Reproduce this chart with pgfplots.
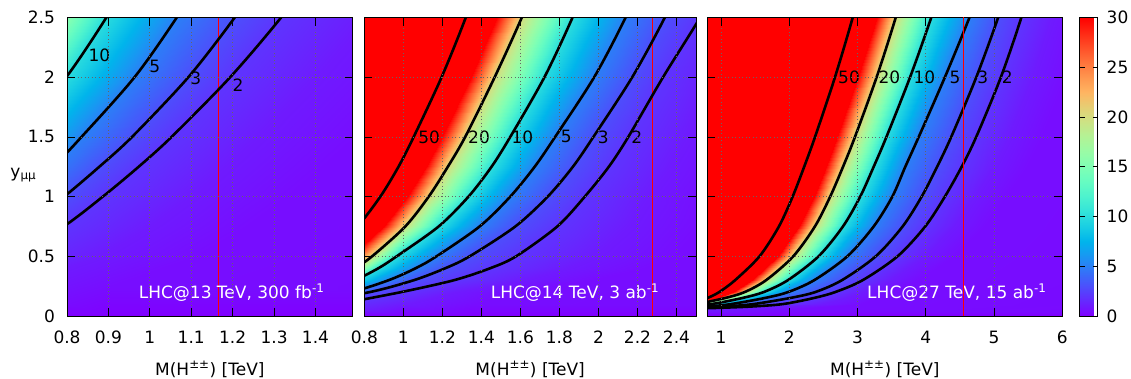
\documentclass[border=0pt]{standalone}
\usepackage{fontspec}
\setmainfont{DejaVu Sans}
\usepackage{pgfplots}
\usepackage{pgfplotstable}
\pgfplotsset{compat=1.18}
\pgfkeys{/pgf/number format/assume math mode=true}
\pgfplotsset{colormap={gnurainbow}{rgb=(0.5,0,1) rgb=(0.4,0.1564,0.9969) rgb=(0.3,0.309,0.9877) rgb=(0.2,0.454,0.9724) rgb=(0.1,0.5878,0.9511) rgb=(0,0.7071,0.9239) rgb=(0.1,0.809,0.891) rgb=(0.2,0.891,0.8526) rgb=(0.3,0.9511,0.809) rgb=(0.4,0.9877,0.7604) rgb=(0.5,1,0.7071) rgb=(0.6,0.9877,0.6494) rgb=(0.7,0.9511,0.5878) rgb=(0.8,0.891,0.5225) rgb=(0.9,0.809,0.454) rgb=(1,0.7071,0.3827) rgb=(1,0.5878,0.309) rgb=(1,0.454,0.2334) rgb=(1,0.309,0.1564) rgb=(1,0.1564,0.0785) rgb=(1,0,0)}}

\pgfplotsset{panel/.style={
  scale only axis, height=298.5pt, ymin=0, ymax=2.5, enlargelimits=false,
  ytick={0,0.5,1,1.5,2,2.5},
  tick pos=both, xticklabel pos=lower, yticklabel pos=left,
  tick align=inside, major tick length=8pt,
  tick style={black, line width=0.8pt},
  axis line style={black, line width=0.8pt},
  grid=major, major grid style={black!60, line width=0.7pt, dash pattern=on 0.7pt off 2.8pt},
  axis on top,
  colormap name=gnurainbow, point meta min=0, point meta max=30,
  xlabel={M(H\textsuperscript{±±}) [TeV]},
  xlabel style={at={(axis description cs:0.5,0)}, anchor=base, yshift=-59pt},
  xticklabel style={anchor=base, yshift=-27.5pt},
  yticklabel style={anchor=east, xshift=-6.3pt},
  anchor=south west,
},
cline/.style={black, line width=2.6pt, smooth, forget plot},
redline/.style={color=red, line width=1pt, forget plot},
}

\pgfplotstableread{
M y s
-5 0 0
-0.254 0 0
-0.157 0 0
0.008 0 0
0.208 0 0
0.336 0 0
0.4625 0 0
0.6725 0 0
0.9025 0 0
5 0 0
-5 0.25 30
-0.254 0.25 30
-0.157 0.25 20
0.008 0.25 10
0.208 0.25 5
0.336 0.25 3
0.4625 0.25 2
0.6725 0.25 1
0.9025 0.25 0.5
5 0.25 0
-5 0.5 30
-0.005 0.5 30
0.092 0.5 20
0.257 0.5 10
0.44 0.5 5
0.564 0.5 3
0.670 0.5 2
0.88 0.5 1
1.11 0.5 0.5
5 0.5 0
-5 0.75 30
0.144 0.75 30
0.241 0.75 20
0.406 0.75 10
0.579 0.75 5
0.698 0.75 3
0.792 0.75 2
1.002 0.75 1
1.232 0.75 0.5
5 0.75 0
-5 1.0 30
0.259 1.0 30
0.356 1.0 20
0.521 1.0 10
0.681 1.0 5
0.793 1.0 3
0.8865 1.0 2
1.0965 1.0 1
1.3265 1.0 0.5
5 1.0 0
-5 1.25 30
0.343 1.25 30
0.44 1.25 20
0.605 1.25 10
0.766 1.25 5
0.878 1.25 3
0.973 1.25 2
1.183 1.25 1
1.413 1.25 0.5
5 1.25 0
-5 1.5 30
0.415 1.5 30
0.512 1.5 20
0.677 1.5 10
0.835 1.5 5
0.957 1.5 3
1.0525 1.5 2
1.2625 1.5 1
1.4925 1.5 0.5
5 1.5 0
-5 2.0 30
0.536 2.0 30
0.633 2.0 20
0.798 2.0 10
0.963 2.0 5
1.093 2.0 3
1.194 2.0 2
1.404 2.0 1
1.634 2.0 0.5
5 2.0 0
-5 2.5 30
0.633 2.5 30
0.73 2.5 20
0.895 2.5 10
1.065 2.5 5
1.205 2.5 3
1.317 2.5 2
1.527 2.5 1
1.757 2.5 0.5
5 2.5 0
}\tabA

\pgfplotstableread{
M y s
-5 0 0
0.082 0 0
0.197 0 0
0.304 0 0
0.418 0 0
0.467 0 0
0.668 0 0
1.010 0 0
1.351 0 0
10 0 0
-5 0.1 30
0.082 0.1 30
0.197 0.1 20
0.304 0.1 10
0.418 0.1 5
0.467 0.1 3
0.668 0.1 2
1.010 0.1 1
1.351 0.1 0.5
10 0.1 0
-5 0.2 30
0.362 0.2 30
0.474 0.2 20
0.581 0.2 10
0.730 0.2 5
0.827 0.2 3
0.988 0.2 2
1.262 0.2 1
1.535 0.2 0.5
10 0.2 0
-5 0.3 30
0.526 0.3 30
0.636 0.3 20
0.751 0.3 10
0.925 0.3 5
1.054 0.3 3
1.26 0.3 2
1.61 0.3 1
1.96 0.3 0.5
10 0.3 0
-5 0.4 30
0.643 0.4 30
0.751 0.4 20
0.872 0.4 10
1.063 0.4 5
1.215 0.4 3
1.445 0.4 2
1.836 0.4 1
2.227 0.4 0.5
10 0.4 0
-5 0.5 30
0.733 0.5 30
0.84 0.5 20
0.966 0.5 10
1.17 0.5 5
1.34 0.5 3
1.578 0.5 2
1.983 0.5 1
2.387 0.5 0.5
10 0.5 0
-5 0.75 30
0.901 0.75 30
1.010 0.75 20
1.181 0.75 10
1.391 0.75 5
1.574 0.75 3
1.789 0.75 2
2.155 0.75 1
2.52 0.75 0.5
10 0.75 0
-5 1.0 30
1.020 1.0 30
1.130 1.0 20
1.334 1.0 10
1.548 1.0 5
1.74 1.0 3
1.93 1.0 2
2.253 1.0 1
2.576 1.0 0.5
10 1.0 0
-5 1.25 30
1.116 1.25 30
1.228 1.25 20
1.452 1.25 10
1.673 1.25 5
1.869 1.25 3
2.053 1.25 2
2.366 1.25 1
2.679 1.25 0.5
10 1.25 0
-5 1.5 30
1.2 1.5 30
1.317 1.5 20
1.548 1.5 10
1.778 1.5 5
1.974 1.5 3
2.153 1.5 2
2.457 1.5 1
2.762 1.5 0.5
10 1.5 0
-5 2.0 30
1.348 2.0 30
1.468 2.0 20
1.723 2.0 10
1.978 2.0 5
2.173 2.0 3
2.331 2.0 2
2.6 2.0 1
2.868 2.0 0.5
10 2.0 0
-5 2.5 30
1.48 2.5 30
1.607 2.5 20
1.867 2.5 10
2.139 2.5 5
2.34 2.5 3
2.521 2.5 2
2.829 2.5 1
3.136 2.5 0.5
10 2.5 0
}\tabB

\pgfplotstableread{
M y s
-5 0 0
-0.7 0 0
-0.6 0 0
-0.5 0 0
-0.4 0 0
-0.3 0 0
-0.2 0 0
0.8 0 0
1.8 0 0
20 0 0
-5 0.05 30
-0.7 0.05 30
-0.6 0.05 20
-0.5 0.05 10
-0.4 0.05 5
-0.3 0.05 3
-0.2 0.05 2
0.8 0.05 1
1.8 0.05 0.5
20 0.05 0
-5 0.1 30
0.619 0.1 30
0.652 0.1 20
0.862 0.1 10
1.149 0.1 5
1.478 0.1 3
1.909 0.1 2
2.469 0.1 1
3.03 0.1 0.5
20 0.1 0
-5 0.15 30
0.943 0.15 30
1.057 0.15 20
1.308 0.15 10
1.636 0.15 5
2.005 0.15 3
2.355 0.15 2
2.81 0.15 1
3.265 0.15 0.5
20 0.15 0
-5 0.2 30
1.18 0.2 30
1.345 0.2 20
1.624 0.2 10
1.981 0.2 5
2.379 0.2 3
2.671 0.2 2
3.051 0.2 1
3.43 0.2 0.5
20 0.2 0
-5 0.3 30
1.46 0.3 30
1.661 0.3 20
1.98 0.3 10
2.366 0.3 5
2.772 0.3 3
3.076 0.3 2
3.471 0.3 1
3.866 0.3 0.5
20 0.3 0
-5 0.5 30
1.84 0.5 30
2.059 0.5 20
2.43 0.5 10
2.852 0.5 5
3.268 0.5 3
3.587 0.5 2
4.002 0.5 1
4.416 0.5 0.5
20 0.5 0
-5 0.75 30
2.143 0.75 30
2.376 0.75 20
2.787 0.75 10
3.237 0.75 5
3.661 0.75 3
3.992 0.75 2
4.422 0.75 1
4.853 0.75 0.5
20 0.75 0
-5 1.0 30
2.357 1.0 30
2.60 1.0 20
3.04 1.0 10
3.51 1.0 5
3.94 1.0 3
4.28 1.0 2
4.722 1.0 1
5.164 1.0 0.5
20 1.0 0
-5 1.25 30
2.536 1.25 30
2.788 1.25 20
3.237 1.25 10
3.70 1.25 5
4.166 1.25 3
4.526 1.25 2
4.994 1.25 1
5.462 1.25 0.5
20 1.25 0
-5 1.5 30
2.704 1.5 30
2.963 1.5 20
3.424 1.5 10
3.897 1.5 5
4.373 1.5 3
4.739 1.5 2
5.215 1.5 1
5.691 1.5 0.5
20 1.5 0
-5 2.0 30
3.01 2.0 30
3.28 2.0 20
3.77 2.0 10
4.28 2.0 5
4.74 2.0 3
5.10 2.0 2
5.568 2.0 1
6.036 2.0 0.5
20 2.0 0
-5 2.5 30
3.281 2.5 30
3.56 2.5 20
4.08 2.5 10
4.64 2.5 5
5.06 2.5 3
5.40 2.5 2
5.842 2.5 1
6.284 2.5 0.5
20 2.5 0
}\tabC

\begin{document}
\fontsize{17}{20}\selectfont
\begin{tikzpicture}
\useasboundingbox (-67pt,-62pt) rectangle (1064pt,316pt);

% ---------- panel 1 ----------
\begin{axis}[panel, at={(0pt,0pt)}, width=285.7pt,
  xmin=0.8, xmax=1.49, xtick={0.8,0.9,1,1.1,1.2,1.3,1.4},
  ylabel={y\textsubscript{μμ}},
  ylabel style={rotate=-90, at={(axis description cs:-0.153,0.472)}, anchor=center}]
\addplot[surf, shader=interp, mesh/cols=10, point meta=explicit] table[x=M, y=y, meta=s] {\tabA};
\addplot[redline] coordinates {(1.167,0) (1.167,2.5)};
\addplot[cline] coordinates {(0.521,1.0) (0.605,1.25) (0.677,1.5) (0.798,2.0) (0.895,2.5) (0.981,3.0)};
\addplot[cline] coordinates {(0.681,1.0) (0.766,1.25) (0.835,1.5) (0.963,2.0) (1.065,2.5) (1.156,3.0)};
\addplot[cline] coordinates {(0.698,0.75) (0.793,1.0) (0.878,1.25) (0.957,1.5) (1.093,2.0) (1.205,2.5) (1.305,3.0)};
\addplot[cline] coordinates {(0.670,0.5) (0.792,0.75) (0.8865,1.0) (0.973,1.25) (1.0525,1.5) (1.194,2.0) (1.317,2.5) (1.426,3.0)};
\node at (axis cs:0.878,2.186) {10};
\node at (axis cs:1.012,2.088) {5};
\node at (axis cs:1.111,1.99) {3};
\node at (axis cs:1.213,1.935) {2};
\node[white, anchor=base east, inner sep=0pt] at (axis cs:1.422,0.148) {LHC@13 TeV, 300 fb\textsuperscript{-1}};
\end{axis}

% ---------- panel 2 ----------
\begin{axis}[panel, at={(297.3pt,0pt)}, width=331.7pt,
  xmin=0.8, xmax=2.5, xtick={0.8,1,1.2,1.4,1.6,1.8,2,2.2,2.4}, yticklabels={}]
\addplot[surf, shader=interp, mesh/cols=10, point meta=explicit] table[x=M, y=y, meta=s] {\tabB};
\addplot[redline] coordinates {(2.277,0) (2.277,2.5)};
\addplot[cline] coordinates {(0.598,0.5) (0.764,0.75) (0.882,1.0) (0.975,1.25) (1.053,1.5) (1.196,2.0) (1.320,2.5) (1.429,3.0)};
\addplot[cline] coordinates {(0.636,0.3) (0.751,0.4) (0.84,0.5) (1.010,0.75) (1.130,1.0) (1.228,1.25) (1.317,1.5) (1.468,2.0) (1.607,2.5) (1.731,3.0)};
\addplot[cline] coordinates {(0.581,0.2) (0.751,0.3) (0.872,0.4) (0.966,0.5) (1.181,0.75) (1.334,1.0) (1.452,1.25) (1.548,1.5) (1.723,2.0) (1.867,2.5) (1.991,3.0)};
\addplot[cline] coordinates {(0.418,0.1) (0.730,0.2) (0.925,0.3) (1.063,0.4) (1.17,0.5) (1.391,0.75) (1.548,1.0) (1.673,1.25) (1.778,1.5) (1.978,2.0) (2.139,2.5) (2.276,3.0)};
\addplot[cline] coordinates {(0.467,0.1) (0.827,0.2) (1.054,0.3) (1.215,0.4) (1.34,0.5) (1.574,0.75) (1.74,1.0) (1.869,1.25) (1.974,1.5) (2.173,2.0) (2.34,2.5) (2.482,3.0)};
\addplot[cline] coordinates {(0.668,0.1) (0.988,0.2) (1.26,0.3) (1.445,0.4) (1.578,0.5) (1.789,0.75) (1.93,1.0) (2.053,1.25) (2.153,1.5) (2.331,2.0) (2.521,2.5) (2.694,3.0)};
\node at (axis cs:1.132,1.5) {50};
\node at (axis cs:1.388,1.5) {20};
\node at (axis cs:1.61,1.5) {10};
\node at (axis cs:1.835,1.5) {5};
\node at (axis cs:2.025,1.5) {3};
\node at (axis cs:2.196,1.5) {2};
\node[white, anchor=base east, inner sep=0pt] at (axis cs:2.312,0.148) {LHC@14 TeV, 3 ab\textsuperscript{-1}};
\end{axis}

% ---------- panel 3 ----------
\begin{axis}[panel, at={(640.3pt,0pt)}, width=355pt,
  xmin=0.8, xmax=6, xtick={1,2,3,4,5,6}, yticklabels={}]
\addplot[surf, shader=interp, mesh/cols=10, point meta=explicit] table[x=M, y=y, meta=s] {\tabC};
\addplot[cline] coordinates {(0.577,0.1) (0.8,0.15) (0.973,0.2) (1.207,0.3) (1.565,0.5) (1.849,0.75) (2.05,1.0) (2.219,1.25) (2.378,1.5) (2.67,2.0) (2.93,2.5) (3.164,3.0)};
\addplot[cline] coordinates {(0.652,0.1) (1.057,0.15) (1.345,0.2) (1.661,0.3) (2.059,0.5) (2.376,0.75) (2.60,1.0) (2.788,1.25) (2.963,1.5) (3.28,2.0) (3.56,2.5) (3.811,3.0)};
\addplot[cline] coordinates {(0.6,0.09) (0.862,0.1) (1.308,0.15) (1.624,0.2) (1.98,0.3) (2.43,0.5) (2.787,0.75) (3.04,1.0) (3.237,1.25) (3.424,1.5) (3.77,2.0) (4.08,2.5) (4.36,3.0)};
\addplot[cline] coordinates {(0.5,0.075) (0.814,0.08) (1.149,0.1) (1.636,0.15) (1.981,0.2) (2.366,0.3) (2.852,0.5) (3.237,0.75) (3.51,1.0) (3.70,1.25) (3.897,1.5) (4.28,2.0) (4.64,2.5) (4.974,3.0)};
\addplot[cline] coordinates {(0.5,0.068) (0.742,0.07) (1.076,0.08) (1.478,0.1) (2.005,0.15) (2.379,0.2) (2.772,0.3) (3.268,0.5) (3.661,0.75) (3.94,1.0) (4.166,1.25) (4.373,1.5) (4.74,2.0) (5.06,2.5) (5.344,3.0)};
\addplot[cline] coordinates {(0.5,0.063) (0.766,0.065) (1.062,0.07) (1.463,0.08) (1.909,0.1) (2.355,0.15) (2.671,0.2) (3.076,0.3) (3.587,0.5) (3.992,0.75) (4.28,1.0) (4.526,1.25) (4.739,1.5) (5.10,2.0) (5.40,2.5) (5.658,3.0)};
\node at (axis cs:2.876,2.0) {50};
\node at (axis cs:3.466,2.0) {20};
\node at (axis cs:3.979,2.0) {10};
\node at (axis cs:4.428,2.0) {5};
\node at (axis cs:4.834,2.0) {3};
\node at (axis cs:5.194,2.0) {2};
\node[white, anchor=base east, inner sep=0pt] at (axis cs:5.77,0.148) {LHC@27 TeV, 15 ab\textsuperscript{-1}};
\end{axis}

% ---------- overlay on panel 3: red reference line and the colour bar ----------
\begin{axis}[at={(640.3pt,0pt)}, anchor=south west, scale only axis,
  width=355pt, height=298.5pt, hide axis, xmin=0.8, xmax=6, ymin=0, ymax=2.5,
  colormap name=gnurainbow, point meta min=0, point meta max=30,
  colorbar,
  colorbar style={
    at={(parent axis.north east)}, anchor=north west, xshift=8.7pt,
    scale only axis, width=18pt, height=298.5pt,
    ytick={0,5,10,15,20,25,30}, xtick=\empty,
    ytick pos=both, yticklabel pos=right,
    tick align=inside, major tick length=5pt,
    tick style={black, line width=0.8pt},
    axis line style={black, line width=0.8pt},
    grid=none,
    yticklabel style={anchor=west, xshift=3.3pt},
  }]
\addplot[color=red, line width=1.1pt] coordinates {(4.556,0) (4.556,2.5)};
\end{axis}
\end{tikzpicture}
\end{document}
